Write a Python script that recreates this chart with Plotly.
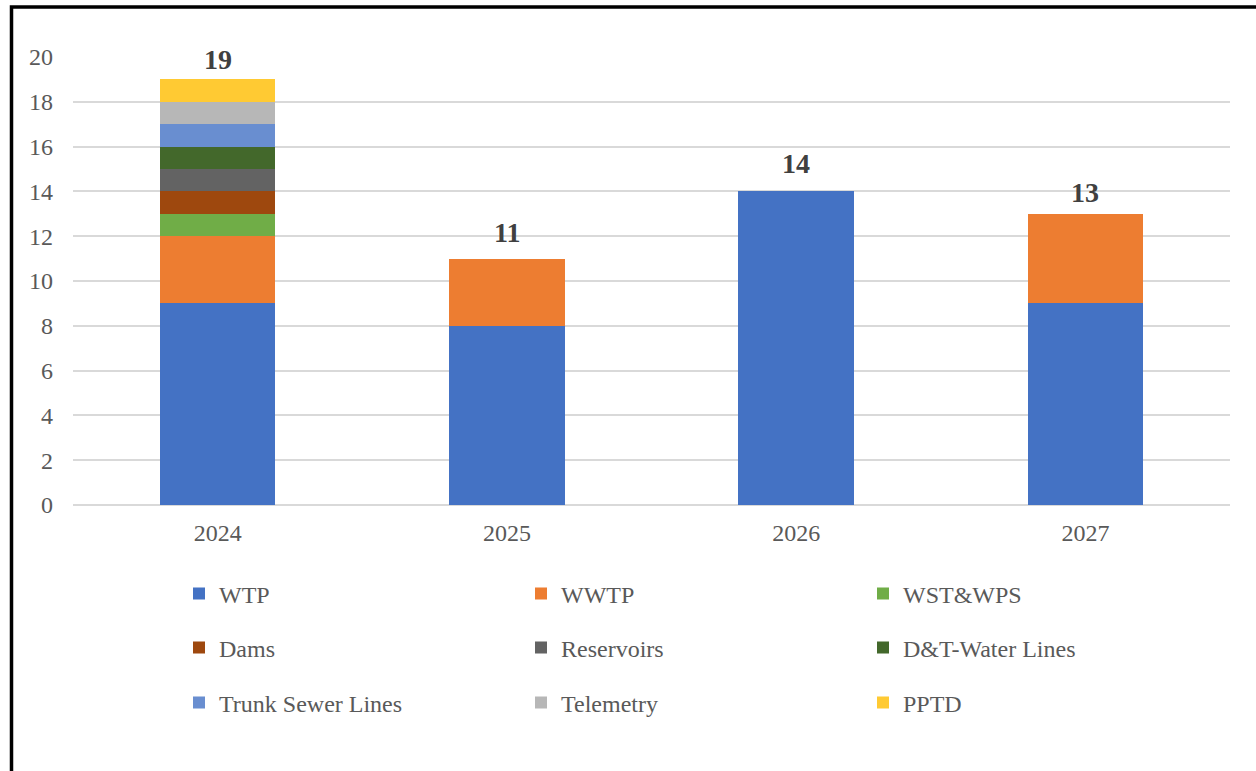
import plotly.graph_objects as go

years = ["2024", "2025", "2026", "2027"]
categories = ["WTP", "WWTP", "WST&WPS", "Dams", "Reservoirs", "D&T-Water Lines",
              "Trunk Sewer Lines", "Telemetry", "PPTD"]
wtp = [9, 8, 14, 9]
wwtp = [3, 3, 0, 4]
wst_wps = [1, 0, 0, 0]
dams = [1, 0, 0, 0]
reservoirs = [1, 0, 0, 0]
dt_water_lines = [1, 0, 0, 0]
trunk_sewer = [1, 0, 0, 0]
telemetry = [1, 0, 0, 0]
pptd = [1, 0, 0, 0]
totals = [19, 11, 14, 13]
y_ticks = [0, 2, 4, 6, 8, 10, 12, 14, 16, 18, 20]

series = [wtp, wwtp, wst_wps, dams, reservoirs, dt_water_lines, trunk_sewer, telemetry, pptd]
colors = ["#4472C4", "#ED7D31", "#70AD47", "#9E480E", "#636363", "#43682B",
          "#698ED0", "#B7B7B7", "#FFCA33"]
legend_ids = ["legend", "legend", "legend", "legend2", "legend2", "legend2",
              "legend3", "legend3", "legend3"]
label_shifts = [2, 9, 10, 4]  # pixel offsets of total labels above bars (style)

FONT = "Liberation Serif"

fig = go.Figure()
for name, vals, col, lg in zip(categories, series, colors, legend_ids):
    fig.add_trace(go.Bar(
        x=years, y=vals, name=name, marker=dict(color=col, line=dict(width=0)),
        legend=lg, hoverinfo="name+y",
    ))

# total labels: category axis positions are the index of each year
for idx, (tot, sh) in enumerate(zip(totals, label_shifts)):
    fig.add_annotation(
        x=idx, y=tot, xref="x", yref="y", text=str(tot), showarrow=False,
        yanchor="bottom", yshift=sh,
        font=dict(family=FONT, size=28, color="#404040", weight="bold"),
    )

W, H = 1256, 771
ml, mr, mt, mb = 73, 26, 57, 266
pw = W - ml - mr
ph = H - mt - mb

def px_x(px):
    return (px - ml) / pw

def px_y(py):
    return (H - mb - py) / ph

legend_common = dict(
    orientation="h", entrywidth=297, entrywidthmode="pixels",
    xanchor="left", yanchor="middle", x=px_x(179),
    font=dict(family=FONT, size=24, color="#595959"),
    bgcolor="rgba(0,0,0,0)", traceorder="normal",
)

fig.update_layout(
    width=W, height=H,
    margin=dict(l=ml, r=mr, t=mt, b=mb),
    paper_bgcolor="white", plot_bgcolor="white",
    barmode="stack", bargap=0.6,
    font=dict(family=FONT, size=24, color="#595959"),
    xaxis=dict(
        type="category", categoryorder="array", categoryarray=years,
        range=[-0.5, len(years) - 0.5],
        showgrid=False, showline=False, ticks="", ticklabelstandoff=11,
        tickfont=dict(family=FONT, size=24, color="#595959"),
    ),
    yaxis=dict(
        range=[0, 20], tickvals=y_ticks, showgrid=True, gridcolor="#D9D9D9",
        gridwidth=1.5, zeroline=True, zerolinecolor="#D9D9D9", zerolinewidth=1.5,
        showline=False, ticks="", ticklabelstandoff=19,
        tickfont=dict(family=FONT, size=24, color="#595959"),
    ),
    legend=dict(legend_common, y=px_y(594)),
    legend2=dict(legend_common, y=px_y(648)),
    legend3=dict(legend_common, y=px_y(703)),
    showlegend=True,
)

# figure frame (left and top border)
fig.add_shape(
    type="path", xref="paper", yref="paper",
    path=f"M {px_x(11.5)},{px_y(790)} L {px_x(11.5)},{px_y(7)} L {px_x(1270)},{px_y(7)}",
    line=dict(color="black", width=3.5),
)

fig.write_html("out.html", config={"displayModeBar": False},
               post_script="document.body.style.margin='0';")
